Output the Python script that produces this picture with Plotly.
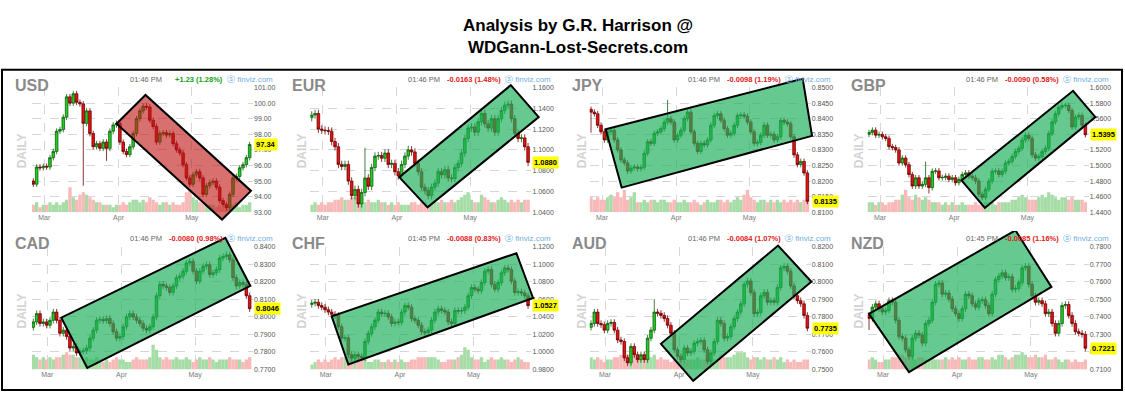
import plotly.graph_objects as go

W, H = 1125, 396
FONT = "Liberation Sans, Arial, sans-serif"

# ------------------------------------------------------------------ data
names = ["USD", "EUR", "JPY", "GBP", "CAD", "CHF", "AUD", "NZD"]
times = ["01:46 PM", "01:46 PM", "01:46 PM", "01:46 PM", "01:46 PM", "01:45 PM", "01:46 PM", "01:45 PM"]
changes = ["+1.23 (1.28%)", "-0.0163 (1.48%)", "-0.0098 (1.19%)", "-0.0090 (0.58%)",
           "-0.0080 (0.98%)", "-0.0088 (0.83%)", "-0.0084 (1.07%)", "-0.0085 (1.16%)"]
month_labels = ["Mar", "Apr", "May"]

usd_open0 = 95.0
usd_close = [94.8, 95.9, 95.85, 95.95, 95.9, 96.5, 96.9, 98.2, 98.3, 99.1,
             100.4, 100.0, 100.6, 100.05, 99.95, 98.7, 99.5, 98.05, 97.2, 97.4,
             97.1, 97.5, 97.1, 98.2, 98.6, 98.7, 97.5, 96.9, 96.7, 97.2,
             98.05, 99.0, 99.5, 99.8, 99.75, 98.9, 98.5, 97.5, 98.05, 98.1,
             97.95, 98.05, 97.4, 97.0, 96.8, 96.05, 95.2, 94.8, 95.4, 95.6,
             95.2, 94.15, 94.7, 94.9, 95.0, 94.6, 93.75, 93.5, 93.3, 94.15,
             95.2, 95.3, 95.85, 96.05, 96.5, 97.34]
usd_vol = [3, 4, 2, 3, 3, 4, 3, 4, 3, 4, 5, 10, 6, 5, 7, 8, 7, 6, 5, 4,
           4, 3, 3, 3, 2, 3, 3, 4, 3, 4, 5, 5, 4, 5, 4, 6, 5, 4, 3, 4,
           4, 3, 4, 3, 3, 4, 8, 9, 6, 5, 4, 4, 3, 3, 3, 2, 3, 2, 3, 3,
           3, 4, 2, 3, 3, 4]

eur_open0 = 1.131
eur_close = [1.1335, 1.135, 1.120, 1.119, 1.1185, 1.118, 1.108, 1.103, 1.086, 1.084,
             1.086, 1.070, 1.056, 1.062, 1.048, 1.059, 1.073, 1.065, 1.083, 1.094,
             1.0945, 1.092, 1.097, 1.086, 1.087, 1.079, 1.075, 1.086, 1.094, 1.100,
             1.098, 1.087, 1.079, 1.064, 1.061, 1.056, 1.064, 1.068, 1.079, 1.076,
             1.081, 1.073, 1.0725, 1.083, 1.087, 1.097, 1.111, 1.121, 1.122, 1.117,
             1.127, 1.135, 1.125, 1.121, 1.130, 1.117, 1.130, 1.138, 1.143, 1.144,
             1.130, 1.116, 1.111, 1.1115, 1.103, 1.088]
eur_vol = [3, 4, 3, 4, 3, 4, 4, 5, 5, 6, 5, 5, 6, 6, 5, 6, 4, 5, 4, 4,
           5, 4, 4, 3, 4, 3, 4, 3, 3, 3, 4, 4, 3, 4, 4, 3, 3, 4, 4, 5,
           4, 4, 5, 4, 5, 6, 7, 8, 5, 4, 4, 7, 6, 5, 4, 4, 5, 6, 5, 4,
           5, 4, 5, 4, 5, 5]

jpy_open0 = 0.8430
jpy_close = [0.8421, 0.8416, 0.8379, 0.8358, 0.8332, 0.8358, 0.8363, 0.8332, 0.8300, 0.8268,
             0.8258, 0.8232, 0.8242, 0.8245, 0.8240, 0.8244, 0.8289, 0.8326, 0.8321, 0.8353,
             0.8358, 0.8368, 0.8389, 0.8400, 0.8389, 0.8332, 0.8347, 0.8363, 0.8400, 0.8421,
             0.8358, 0.8321, 0.8295, 0.8321, 0.8316, 0.8332, 0.8379, 0.8410, 0.8416, 0.8395,
             0.8368, 0.8347, 0.8353, 0.8379, 0.8410, 0.8412, 0.8408, 0.8389, 0.8358, 0.8321,
             0.8324, 0.8347, 0.8379, 0.8347, 0.8350, 0.8332, 0.8342, 0.8395, 0.8389, 0.8384,
             0.8342, 0.8284, 0.8253, 0.8263, 0.8226, 0.8135]
jpy_vol = [6, 5, 6, 5, 5, 6, 7, 6, 8, 6, 9, 5, 6, 8, 4, 4, 5, 4, 5, 5,
           4, 5, 5, 4, 4, 5, 4, 4, 5, 4, 4, 5, 4, 3, 4, 5, 4, 4, 5, 5,
           4, 5, 4, 5, 6, 5, 7, 9, 6, 5, 4, 5, 5, 4, 5, 4, 5, 4, 5, 4,
           5, 4, 5, 4, 5, 6]

gbp_open0 = 1.5400
gbp_close = [1.5423, 1.5453, 1.5389, 1.5398, 1.5368, 1.5347, 1.5242, 1.5230, 1.5200, 1.5032,
             1.5095, 1.5010, 1.4884, 1.4737, 1.4842, 1.4737, 1.4758, 1.4842, 1.4716, 1.4926,
             1.4930, 1.4842, 1.4846, 1.4863, 1.4821, 1.4842, 1.4779, 1.4821, 1.4884, 1.4905,
             1.4863, 1.4842, 1.4800, 1.4632, 1.4590, 1.4695, 1.4800, 1.4926, 1.4930, 1.4884,
             1.4926, 1.5032, 1.5053, 1.5116, 1.5179, 1.5221, 1.5326, 1.5389, 1.5347, 1.5137,
             1.5095, 1.5116, 1.5179, 1.5221, 1.5410, 1.5558, 1.5663, 1.5747, 1.5768, 1.5772,
             1.5705, 1.5495, 1.5621, 1.5642, 1.5516, 1.5395]
gbp_vol = [4, 4, 3, 4, 4, 3, 4, 4, 5, 5, 7, 9, 6, 5, 7, 6, 5, 6, 5, 4,
           4, 4, 3, 4, 3, 4, 3, 3, 4, 3, 3, 3, 4, 3, 3, 4, 4, 4, 3, 4,
           4, 4, 4, 5, 5, 6, 7, 6, 5, 5, 5, 6, 7, 6, 8, 7, 6, 5, 6, 6,
           5, 6, 5, 5, 5, 4]

cad_open0 = 0.7940
cad_close = [0.7971, 0.8018, 0.7962, 0.7971, 0.7952, 0.7980, 0.8027, 0.7980, 0.7906, 0.7924,
             0.7887, 0.7822, 0.7831, 0.7794, 0.7803, 0.7806, 0.7822, 0.7878, 0.7924, 0.7980,
             0.7985, 0.7978, 0.7990, 0.7962, 0.7915, 0.7878, 0.7887, 0.7943, 0.7999, 0.8018,
             0.7999, 0.7980, 0.7962, 0.7934, 0.7924, 0.7943, 0.7999, 0.8120, 0.8185, 0.8176,
             0.8167, 0.8139, 0.8176, 0.8223, 0.8232, 0.8260, 0.8307, 0.8316, 0.8260, 0.8204,
             0.8260, 0.8288, 0.8297, 0.8241, 0.8251, 0.8269, 0.8335, 0.8344, 0.8353, 0.8325,
             0.8223, 0.8176, 0.8195, 0.8185, 0.8120, 0.8046]
cad_vol = [6, 5, 4, 5, 4, 5, 4, 5, 5, 6, 7, 6, 6, 5, 5, 4, 5, 4, 4, 5,
           4, 3, 4, 3, 4, 5, 4, 4, 3, 3, 4, 5, 4, 4, 4, 5, 10, 8, 5, 4,
           5, 4, 4, 5, 4, 4, 5, 4, 3, 4, 5, 4, 4, 5, 4, 3, 4, 4, 4, 5,
           4, 4, 4, 3, 4, 5]

chf_open0 = 1.0540
chf_close = [1.0555, 1.0566, 1.0528, 1.0510, 1.0480, 1.0454, 1.0428, 1.0416, 1.0286, 1.0155,
             1.0160, 0.9969, 0.9931, 0.9969, 0.9950, 0.9931, 1.0118, 1.0211, 1.0286, 1.0360,
             1.0454, 1.0435, 1.0440, 1.0398, 1.0323, 1.0342, 1.0335, 1.0454, 1.0528, 1.0510,
             1.0379, 1.0360, 1.0304, 1.0230, 1.0219, 1.0249, 1.0360, 1.0454, 1.0491, 1.0472,
             1.0454, 1.0342, 1.0323, 1.0472, 1.0465, 1.0470, 1.0510, 1.0640, 1.0734, 1.0715,
             1.0696, 1.0790, 1.0920, 1.0939, 1.0771, 1.0715, 1.0790, 1.0901, 1.0957, 1.0939,
             1.0808, 1.0678, 1.0685, 1.0672, 1.0640, 1.0527]
chf_vol = [2, 3, 4, 3, 4, 3, 4, 5, 4, 5, 5, 6, 5, 6, 5, 4, 4, 3, 3, 4,
           4, 3, 3, 4, 3, 4, 3, 4, 3, 3, 4, 4, 5, 5, 5, 5, 5, 5, 4, 3,
           3, 4, 4, 4, 5, 6, 9, 8, 5, 4, 4, 5, 3, 4, 5, 4, 4, 5, 4, 4,
           3, 4, 5, 4, 3, 3]

aud_open0 = 0.7740
aud_close = [0.7762, 0.7827, 0.7762, 0.7755, 0.7724, 0.7762, 0.7768, 0.7724, 0.7668, 0.7659,
             0.7566, 0.7538, 0.7631, 0.7584, 0.7556, 0.7584, 0.7556, 0.7678, 0.7724, 0.7827,
             0.7820, 0.7808, 0.7790, 0.7752, 0.7706, 0.7612, 0.7575, 0.7556, 0.7622, 0.7594,
             0.7603, 0.7650, 0.7659, 0.7665, 0.7612, 0.7547, 0.7594, 0.7659, 0.7780, 0.7762,
             0.7678, 0.7687, 0.7743, 0.7790, 0.7827, 0.7874, 0.7985, 0.8004, 0.7939, 0.7818,
             0.7825, 0.7920, 0.7939, 0.7883, 0.7892, 0.7883, 0.7967, 0.8079, 0.8088, 0.8060,
             0.7976, 0.7920, 0.7892, 0.7874, 0.7808, 0.7735]
aud_vol = [5, 4, 5, 4, 3, 4, 4, 5, 5, 6, 5, 6, 5, 6, 5, 4, 5, 4, 5, 6,
           4, 5, 4, 4, 3, 4, 3, 4, 3, 4, 4, 4, 5, 4, 4, 5, 5, 4, 4, 6,
           5, 5, 5, 6, 7, 7, 7, 5, 4, 5, 5, 4, 5, 4, 4, 5, 4, 5, 3, 4,
           3, 4, 3, 3, 4, 4]

nzd_open0 = 0.7410
nzd_close = [0.7390, 0.7455, 0.7474, 0.7446, 0.7427, 0.7436, 0.7492, 0.7483, 0.7380, 0.7287,
             0.7278, 0.7212, 0.7175, 0.7278, 0.7306, 0.7296, 0.7250, 0.7362, 0.7380, 0.7483,
             0.7585, 0.7592, 0.7529, 0.7535, 0.7501, 0.7446, 0.7418, 0.7390, 0.7446, 0.7529,
             0.7520, 0.7474, 0.7455, 0.7492, 0.7497, 0.7464, 0.7418, 0.7529, 0.7613, 0.7632,
             0.7651, 0.7623, 0.7628, 0.7557, 0.7562, 0.7595, 0.7679, 0.7688, 0.7585, 0.7520,
             0.7483, 0.7492, 0.7474, 0.7418, 0.7427, 0.7362, 0.7306, 0.7362, 0.7464, 0.7470,
             0.7408, 0.7362, 0.7315, 0.7306, 0.7300, 0.7221]
nzd_vol = [4, 5, 4, 3, 3, 4, 4, 5, 5, 6, 6, 5, 7, 5, 4, 5, 5, 4, 4, 5,
           4, 4, 4, 5, 4, 5, 4, 5, 4, 4, 5, 4, 4, 5, 5, 4, 4, 5, 4, 6,
           6, 5, 4, 5, 6, 6, 7, 6, 5, 5, 6, 5, 5, 6, 4, 4, 5, 4, 3, 4,
           4, 3, 4, 3, 3, 4]

# notable long wicks (index -> extreme price)
usd_spikes = {15: 94.7, 22: 96.3}
eur_spikes = {16: 1.102, 29: 1.104}
jpy_spikes = {0: 0.8355, 23: 0.8460}
gbp_spikes = {17: 1.5050, 18: 1.4640}
cad_spikes = {}
chf_spikes = {}
aud_spikes = {19: 0.7900}
nzd_spikes = {0: 0.7325}

# price axis ranges / ticks
y_min = [93.0, 1.04, 0.81, 1.44, 0.77, 0.98, 0.75, 0.71]
y_max = [101.0, 1.16, 0.85, 1.60, 0.84, 1.12, 0.82, 0.78]
y_step = [1.0, 0.02, 0.005, 0.02, 0.01, 0.02, 0.01, 0.01]
y_fmt = [".2f", ".4f", ".4f", ".4f", ".4f", ".4f", ".4f", ".4f"]

# hand-drawn channels: corner (bar index, price)
usd_chan_i = [25.0, 33.7, 65.4, 56.7]
usd_chan_p = [98.68, 100.52, 94.37, 92.53]
eur_chan_i = [26.3, 34.8, 68.2, 59.8]
eur_chan_p = [1.0738, 1.0447, 1.1316, 1.1622]
jpy_chan_i = [4.4, 63.6, 66.4, 9.2]
jpy_chan_p = [0.8366, 0.8528, 0.8345, 0.8179]
gbp_chan_i = [27.8, 34.8, 68.0, 61.3]
gbp_chan_p = [1.4808, 1.4455, 1.5621, 1.5958]
cad_chan_i = [8.4, 16.2, 65.2, 57.7]
cad_chan_p = [0.7995, 0.7709, 0.8176, 0.8450]
chf_chan_i = [6.0, 11.0, 66.5, 61.5]
chf_chan_p = [1.0405, 0.9856, 1.0614, 1.1125]
aud_chan_i = [21.0, 30.7, 66.2, 56.2]
aud_chan_p = [0.7646, 0.7435, 0.8000, 0.8206]
nzd_chan_i = [0.0, 12.0, 54.8, 44.0]
nzd_chan_p = [0.7417, 0.7085, 0.7570, 0.7893]
chan_bearish = [True, False, False, False, False, False, False, False]

closes = [usd_close, eur_close, jpy_close, gbp_close, cad_close, chf_close, aud_close, nzd_close]
open0s = [usd_open0, eur_open0, jpy_open0, gbp_open0, cad_open0, chf_open0, aud_open0, nzd_open0]
vols = [usd_vol, eur_vol, jpy_vol, gbp_vol, cad_vol, chf_vol, aud_vol, nzd_vol]
spikes = [usd_spikes, eur_spikes, jpy_spikes, gbp_spikes, cad_spikes, chf_spikes, aud_spikes, nzd_spikes]
chan_i = [usd_chan_i, eur_chan_i, jpy_chan_i, gbp_chan_i, cad_chan_i, chf_chan_i, aud_chan_i, nzd_chan_i]
chan_p = [usd_chan_p, eur_chan_p, jpy_chan_p, gbp_chan_p, cad_chan_p, chf_chan_p, aud_chan_p, nzd_chan_p]

# ------------------------------------------------------------------ layout geometry (pixels)
col_left = [32.0, 310.4, 589.7, 867.7]
PW = 221.0
row_top = [85.0, 247.0]
row_bot = [212.0, 372.0]
X_RANGE = [-0.4, 66.0]
month_pos = [[3.3, 25.6, 47.6], [4.2, 26.5, 48.6]]
PAD = 16.0


def ax(letter, n, key=False):
    if key:
        return f"{letter}axis" if n == 1 else f"{letter}axis{n}"
    return letter if n == 1 else f"{letter}{n}"


fig = go.Figure()
layout = {}
annotations = []
shapes = []

for k in range(8):
    r, c = divmod(k, 4)
    left = col_left[c]
    right = left + PW
    top, bot = row_top[r], row_bot[r]
    xd = [left / W, right / W]
    yd = [1 - bot / H, 1 - top / H]
    xi, yv, yp, xs, ys = k + 1, k + 1, k + 9, k + 9, k + 17

    close = closes[k]
    n = len(close)
    opn = [open0s[k]] + close[:-1]
    wick = 0.18 * y_step[k]
    high = [max(o, cl) + wick for o, cl in zip(opn, close)]
    low = [min(o, cl) - wick for o, cl in zip(opn, close)]
    for idx, v in spikes[k].items():
        if v > high[idx]:
            high[idx] = v
        if v < low[idx]:
            low[idx] = v
    xs_idx = list(range(n))

    vcol = ["#a6dca6" if cl > o else "#f8b9b9" for o, cl in zip(opn, close)]
    fig.add_trace(go.Bar(x=xs_idx, y=vols[k], width=1.0, marker=dict(color=vcol, line=dict(width=0)),
                         xaxis=ax("x", xi), yaxis=ax("y", yv), hoverinfo="skip", showlegend=False))
    fig.add_trace(go.Candlestick(
        x=xs_idx, open=opn, high=high, low=low, close=close,
        xaxis=ax("x", xi), yaxis=ax("y", yp), whiskerwidth=0,
        increasing=dict(line=dict(color="#0f5f0f", width=0.8), fillcolor="#22cc22"),
        decreasing=dict(line=dict(color="#6e0000", width=0.8), fillcolor="#e31212"),
        showlegend=False, hoverinfo="skip"))
    fig.add_trace(go.Scatter(x=[None], y=[None], xaxis=ax("x", xs), yaxis=ax("y", ys),
                             showlegend=False, hoverinfo="skip"))

    grid = dict(showgrid=True, gridcolor="#d6d6d6", griddash="dash", gridwidth=1, zeroline=False)
    layout[ax("x", xi, True)] = dict(
        domain=xd, range=X_RANGE, anchor=ax("y", yv),
        tickmode="array", tickvals=[X_RANGE[0]] + month_pos[r], ticktext=[""] + month_labels,
        ticks="", showline=False, tickfont=dict(size=7, color="#7a7a7a", family=FONT),
        rangeslider=dict(visible=False), fixedrange=True, **grid)
    layout[ax("y", yv, True)] = dict(domain=yd, range=[0, 50], anchor=ax("x", xi), visible=False,
                                     fixedrange=True)
    layout[ax("y", yp, True)] = dict(
        overlaying=ax("y", yv), anchor=ax("x", xi), side="right",
        range=[y_min[k], y_max[k]], tick0=y_min[k], dtick=y_step[k], tickformat=y_fmt[k],
        ticks="", showline=False, tickfont=dict(size=7, color="#555555", family=FONT),
        fixedrange=True, **grid)

    # invisible axes that map the same data scale over a slightly larger area (for channels)
    ux = (X_RANGE[1] - X_RANGE[0]) / PW
    uy = (y_max[k] - y_min[k]) / (bot - top)
    layout[ax("x", xs, True)] = dict(
        domain=[(left - PAD) / W, (right + PAD) / W],
        range=[X_RANGE[0] - PAD * ux, X_RANGE[1] + PAD * ux],
        anchor=ax("y", ys), visible=False, fixedrange=True)
    layout[ax("y", ys, True)] = dict(
        domain=[1 - (bot + PAD) / H, 1 - (top - PAD) / H],
        range=[y_min[k] - PAD * uy, y_max[k] + PAD * uy],
        anchor=ax("x", xs), visible=False, fixedrange=True)

    pts = list(zip(chan_i[k], chan_p[k]))
    path = "M " + " L ".join(f"{a},{b}" for a, b in pts) + " Z"
    fill = "rgba(192,24,24,0.62)" if chan_bearish[k] else "rgba(30,175,90,0.68)"
    shapes.append(dict(type="path", path=path, xref=ax("x", xs), yref=ax("y", ys),
                       fillcolor=fill, line=dict(color="black", width=2), layer="above"))

    # texts
    name_x = [13, 290, 570, 849][c]
    hy = [77, 239][r]
    annotations.append(dict(text=f"<b>{names[k]}</b>", x=name_x / W, y=1 - [83, 244][r] / H,
                            xref="paper", yref="paper", xanchor="left", yanchor="middle",
                            showarrow=False, font=dict(size=16, color="#8a8a8a", family=FONT)))
    annotations.append(dict(text="<b>DAILY</b>", x=[22, 302, 582, 859][c] / W,
                            y=1 - [150, 313][r] / H, xref="paper", yref="paper",
                            xanchor="center", yanchor="middle", textangle=-90, showarrow=False,
                            font=dict(size=12, color="#d2d2d2", family=FONT)))
    annotations.append(dict(text=times[k], x=(left + 132) / W, y=1 - hy / H, xref="paper",
                            yref="paper", xanchor="right", yanchor="middle", showarrow=False,
                            font=dict(size=7.5, color="#666666", family=FONT)))
    up = changes[k].startswith("+")
    annotations.append(dict(text=f"<b>{changes[k]}</b>", x=(left + 193) / W, y=1 - hy / H,
                            xref="paper", yref="paper", xanchor="right", yanchor="middle",
                            showarrow=False,
                            font=dict(size=7.5, color="#12a012" if up else "#e02020", family=FONT)))
    annotations.append(dict(text="\u24e2 finviz.com", x=(left + 243) / W, y=1 - hy / H,
                            xref="paper", yref="paper", xanchor="right", yanchor="middle",
                            showarrow=False, font=dict(size=8, color="#6fb0e0", family=FONT)))
    annotations.append(dict(text=f"<b>{format(close[-1], y_fmt[k])}</b>", x=(right + 1) / W,
                            y=close[-1], xref="paper", yref=ax("y", yp), xanchor="left",
                            yanchor="middle", showarrow=False, bgcolor="#ffff00", borderpad=1,
                            font=dict(size=7.5, color="black", family=FONT)))

# title
annotations.append(dict(text="<b>Analysis by G.R. Harrison @</b>", x=578 / W, y=1 - 22 / H,
                        xref="paper", yref="paper", xanchor="center", yanchor="middle",
                        showarrow=False, font=dict(size=17, color="black", family=FONT)))
annotations.append(dict(text="<b>WDGann-Lost-Secrets.com</b>", x=578 / W, y=1 - 44 / H,
                        xref="paper", yref="paper", xanchor="center", yanchor="middle",
                        showarrow=False, font=dict(size=17, color="black", family=FONT)))

# frame around the panels
shapes.append(dict(type="rect", xref="paper", yref="paper", x0=2 / W, x1=1122 / W,
                   y0=1 - 393 / H, y1=1 - 67 / H, line=dict(color="black", width=2),
                   fillcolor="rgba(0,0,0,0)", layer="below"))

fig.update_layout(
    width=W, height=H, margin=dict(l=0, r=0, t=0, b=0, pad=0),
    paper_bgcolor="white", plot_bgcolor="rgba(0,0,0,0)",
    showlegend=False, font=dict(family=FONT),
    boxgap=0.22, boxgroupgap=0,
    annotations=annotations, shapes=shapes, **layout)

fig.write_html("out.html")
